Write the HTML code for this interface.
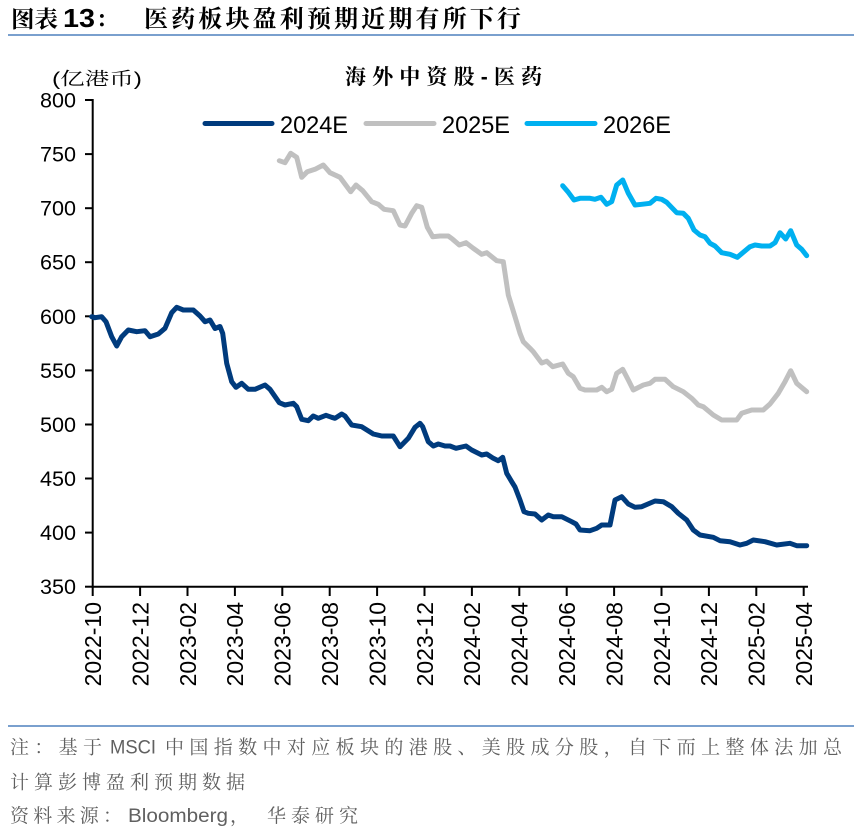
<!DOCTYPE html>
<html><head><meta charset="utf-8"><style>
html,body{margin:0;padding:0;background:#fff;}
svg{display:block;}
</style></head><body>
<svg width="854" height="834" viewBox="0 0 854 834" xmlns="http://www.w3.org/2000/svg">
<rect width="854" height="834" fill="#fff"/>
<!-- Title -->
<g font-family="'Liberation Sans','Noto Serif CJK SC',serif" font-weight="bold" fill="#000">
<text x="11" y="27" font-size="23" textLength="47" lengthAdjust="spacingAndGlyphs">图表</text>
<text x="63" y="27" font-size="26" font-family="'Liberation Sans',sans-serif" textLength="32" lengthAdjust="spacingAndGlyphs">13</text>
<text x="96" y="27" font-size="22">：</text>
<text x="144" y="27" font-size="24" textLength="377">医药板块盈利预期近期有所下行</text>
</g>
<line x1="8" y1="35" x2="854" y2="35" stroke="#4f81bd" stroke-width="1.5"/>

<!-- chart title & unit -->
<text x="345" y="84" font-size="21" font-weight="bold" font-family="'Liberation Sans','Noto Serif CJK SC',serif" textLength="197">海外中资股-医药</text>
<text x="52" y="85" font-size="18" font-family="'Liberation Sans','Noto Serif CJK SC',serif" textLength="90" lengthAdjust="spacingAndGlyphs">(亿港币)</text>

<!-- legend -->
<g stroke-width="5" stroke-linecap="round">
<line x1="205" y1="123.5" x2="272" y2="123.5" stroke="#003b7d"/>
<line x1="366" y1="123.5" x2="434" y2="123.5" stroke="#c0c0c0"/>
<line x1="527" y1="123.5" x2="595" y2="123.5" stroke="#00b0f0"/>
</g>
<g font-family="'Liberation Sans',sans-serif" font-size="24" fill="#000">
<text x="280" y="133" textLength="68" lengthAdjust="spacingAndGlyphs">2024E</text>
<text x="442" y="133" textLength="68" lengthAdjust="spacingAndGlyphs">2025E</text>
<text x="603" y="133" textLength="68" lengthAdjust="spacingAndGlyphs">2026E</text>
</g>

<!-- axes -->
<g stroke="#000" stroke-width="2">
<line x1="92.7" y1="99" x2="92.7" y2="587.7"/>
<line x1="91.7" y1="586.7" x2="808" y2="586.7"/>
<line x1="85" y1="100" x2="92.7" y2="100"/>
<line x1="85" y1="154.1" x2="92.7" y2="154.1"/>
<line x1="85" y1="208.2" x2="92.7" y2="208.2"/>
<line x1="85" y1="262.2" x2="92.7" y2="262.2"/>
<line x1="85" y1="316.3" x2="92.7" y2="316.3"/>
<line x1="85" y1="370.4" x2="92.7" y2="370.4"/>
<line x1="85" y1="424.5" x2="92.7" y2="424.5"/>
<line x1="85" y1="478.5" x2="92.7" y2="478.5"/>
<line x1="85" y1="532.6" x2="92.7" y2="532.6"/>
<line x1="85" y1="586.7" x2="92.7" y2="586.7"/>
<line x1="92.7" y1="586.7" x2="92.7" y2="596"/>
<line x1="140.1" y1="586.7" x2="140.1" y2="596"/>
<line x1="187.5" y1="586.7" x2="187.5" y2="596"/>
<line x1="234.9" y1="586.7" x2="234.9" y2="596"/>
<line x1="282.3" y1="586.7" x2="282.3" y2="596"/>
<line x1="329.7" y1="586.7" x2="329.7" y2="596"/>
<line x1="377.1" y1="586.7" x2="377.1" y2="596"/>
<line x1="424.5" y1="586.7" x2="424.5" y2="596"/>
<line x1="471.9" y1="586.7" x2="471.9" y2="596"/>
<line x1="519.3" y1="586.7" x2="519.3" y2="596"/>
<line x1="566.7" y1="586.7" x2="566.7" y2="596"/>
<line x1="614.1" y1="586.7" x2="614.1" y2="596"/>
<line x1="661.5" y1="586.7" x2="661.5" y2="596"/>
<line x1="708.9" y1="586.7" x2="708.9" y2="596"/>
<line x1="756.3" y1="586.7" x2="756.3" y2="596"/>
<line x1="803.7" y1="586.7" x2="803.7" y2="596"/>
</g>

<!-- y labels -->
<g font-family="'Liberation Sans',sans-serif" font-size="21" fill="#000" text-anchor="end">
<text x="76" y="107.5" textLength="36" lengthAdjust="spacingAndGlyphs">800</text>
<text x="76" y="161.6" textLength="36" lengthAdjust="spacingAndGlyphs">750</text>
<text x="76" y="215.7" textLength="36" lengthAdjust="spacingAndGlyphs">700</text>
<text x="76" y="269.7" textLength="36" lengthAdjust="spacingAndGlyphs">650</text>
<text x="76" y="323.8" textLength="36" lengthAdjust="spacingAndGlyphs">600</text>
<text x="76" y="377.9" textLength="36" lengthAdjust="spacingAndGlyphs">550</text>
<text x="76" y="432" textLength="36" lengthAdjust="spacingAndGlyphs">500</text>
<text x="76" y="486" textLength="36" lengthAdjust="spacingAndGlyphs">450</text>
<text x="76" y="540.1" textLength="36" lengthAdjust="spacingAndGlyphs">400</text>
<text x="76" y="594.2" textLength="36" lengthAdjust="spacingAndGlyphs">350</text>
</g>

<!-- x labels -->
<g font-family="'Liberation Sans',sans-serif" font-size="23" fill="#000" text-anchor="end">
<text transform="translate(101,602) rotate(-90)">2022-10</text>
<text transform="translate(148.4,602) rotate(-90)">2022-12</text>
<text transform="translate(195.8,602) rotate(-90)">2023-02</text>
<text transform="translate(243.2,602) rotate(-90)">2023-04</text>
<text transform="translate(290.6,602) rotate(-90)">2023-06</text>
<text transform="translate(338,602) rotate(-90)">2023-08</text>
<text transform="translate(385.4,602) rotate(-90)">2023-10</text>
<text transform="translate(432.8,602) rotate(-90)">2023-12</text>
<text transform="translate(480.2,602) rotate(-90)">2024-02</text>
<text transform="translate(527.6,602) rotate(-90)">2024-04</text>
<text transform="translate(575,602) rotate(-90)">2024-06</text>
<text transform="translate(622.4,602) rotate(-90)">2024-08</text>
<text transform="translate(669.8,602) rotate(-90)">2024-10</text>
<text transform="translate(717.2,602) rotate(-90)">2024-12</text>
<text transform="translate(764.6,602) rotate(-90)">2025-02</text>
<text transform="translate(812,602) rotate(-90)">2025-04</text>
</g>

<!-- series -->
<g fill="none" stroke-width="5" stroke-linejoin="round" stroke-linecap="round">
<polyline stroke="#c0c0c0" points="279.3,160.7 285,162.7 290.7,153.3 296.7,157.3 301.7,177.3 307.3,171.7 315,169.3 323.3,165 330,172.7 340,177.3 350.7,191.7 356,185 362.7,190.7 371.7,201.7 378.3,204.3 384,209.3 393.3,210.7 400,225 405,226 411.7,213.3 416.7,205.7 421.7,207.3 427.3,227.3 432.7,236.7 440,236 448.3,236 452.7,239.3 459.3,245 466,242.7 473.3,248.3 481.7,254.3 486.7,252.7 496.7,260.7 503.3,261.7 508.3,295 515,316.7 520,333.3 523.3,341.7 530,348.3 533.3,351.7 541.7,363 546.7,361.2 552.7,366.7 562.7,364 568.3,373.3 573.3,376.7 580,388.3 585,390 596.7,390 601.7,387.3 606.7,391.7 611.7,389.3 616.7,373.3 622.7,369.3 628.3,380 633.3,390 643.3,385 650,383.3 655,379.3 665,379.3 673.3,386.7 683.3,391.7 691.7,398.3 698.3,405 703.3,406.7 713.3,415 721.7,420 730,420 736.7,420 741.7,413.3 751.7,410 763.3,410 770,404 778.3,393.3 785,381.7 790.7,370.7 796.7,383.3 806.7,391.7"/>
<polyline stroke="#00b0f0" points="562.7,185.7 568.3,192.3 574,200 580,198.3 590,198.3 595,199.3 601,197.3 606.7,204.3 611.7,201.7 616.7,185 622.7,180 628.3,193.3 635,205 641.7,204.3 650,203.3 656,198.3 661.7,199.3 666.7,202.3 676.7,212.7 683.3,213.3 688.3,218.3 694,230 700,235 705,236.7 710,243.3 715,246 721.7,252.7 730,254.3 737.3,257.3 744,251.7 750,246.7 755,245 761.7,246 770,246 775,242.7 780,232.7 785.7,239 790.7,230.7 796.7,245 801.7,249.3 806.7,255.7"/>
<polyline stroke="#003b7d" points="91.7,316.7 95,317.7 101.7,316.7 106,321.7 111.7,336.7 116.7,346 121.7,336.7 128.3,330 136.7,331.7 145,330.7 150,336.7 158.3,334 165,328.3 171.7,312.7 176.7,307.3 183.3,310 193.3,310 200,316 205,321.7 210,320 215,328.5 220,326.5 222.7,333.3 226.7,363.3 231.7,381.7 236,387.3 241.7,383.3 248.3,389.3 255,389.3 265,385 270,389.3 279.3,402.7 285,405 293.3,403.3 296.7,406.7 301.7,419.3 308.3,420.7 313.3,416 318.3,418.3 326,415.3 331.7,417.3 335,418.3 341.7,414 345,416 351.7,425 361.7,426.7 373.3,434 381.7,436 393.3,436 400,446.7 408.3,438.3 415,427.3 420,423.3 422.7,426.7 428.3,441.7 433.3,446 438.3,444 445,446 450,446 456,448.3 466,446 471.7,450 481.7,455 486.7,454 493.3,458.3 498.3,460.7 502.7,457.3 506.7,473.3 511.7,481.7 515,487 520,500 524,511.7 528.3,513.3 535,514 541.7,520 548.3,515 553.3,516.7 561.7,516.7 571.7,521.7 576,524 580,530 590,530.7 596.7,528.3 601.7,525 610,525 615,500 621.7,496.7 628.3,504 635,507.3 641.7,506.7 655,501 663.3,501.7 671.7,506.7 678.3,513.3 686.7,520 693.3,530 700,535 713.3,537.3 720,540.7 730,541.7 740,545 746.7,543.3 753.3,540 765,541.7 776.7,545 790,543.3 796.7,545.7 806.7,545.7"/>
</g>

<!-- footer -->
<line x1="8" y1="726" x2="854" y2="726" stroke="#4f81bd" stroke-width="1.5"/>
<g font-family="'Liberation Sans','Noto Serif CJK SC',serif" font-size="19" fill="#606060">
<text x="10" y="753.5" textLength="92">注：基于</text>
<text x="110" y="753.5" font-family="'Liberation Sans',sans-serif" textLength="46" lengthAdjust="spacingAndGlyphs">MSCI</text>
<text x="165" y="753.5" textLength="677">中国指数中对应板块的港股、美股成分股，自下而上整体法加总</text>
<text x="10" y="788.5" textLength="235">计算彭博盈利预期数据</text>
<text x="10" y="822" textLength="112">资料来源：</text>
<text x="128" y="822" font-family="'Liberation Sans',sans-serif" textLength="100" lengthAdjust="spacingAndGlyphs">Bloomberg</text>
<text x="230" y="822">，</text>
<text x="267" y="822" textLength="91">华泰研究</text>
</g>
</svg>
</body></html>
